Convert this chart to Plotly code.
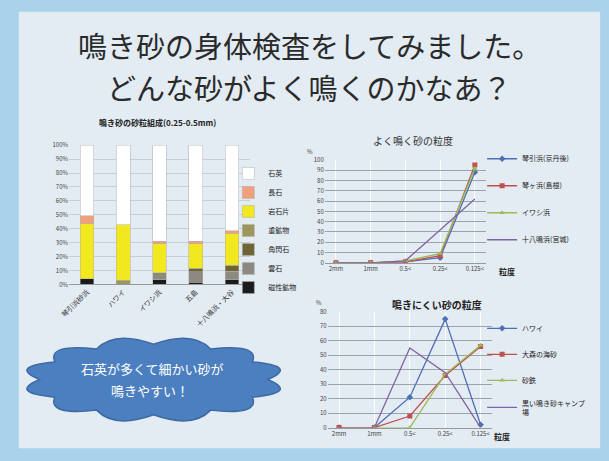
import plotly.graph_objects as go
import numpy as np

W, H = 609, 461
def px(x): return x / W
def py(y): return 1 - y / H

# ---------------- data ----------------
bar_categories = ["琴引浜砂浜", "ハワイ", "イワシ浜", "五島", "十八鳴浜・大谷"]
bar_series = ["磁性鉱物", "雲石", "角閃石", "重鉱物", "岩石片", "長石", "石英"]
bar_colors = ["#1b1b1b", "#8c8a80", "#6e6434", "#9c9658", "#f2e81e", "#f0a07a", "#ffffff"]
bar_values = {
    "磁性鉱物": [4.0, 0.0, 3.3, 1.5, 3.3],
    "雲石":     [0.0, 0.0, 5.2, 7.5, 6.3],
    "角閃石":   [0.0, 0.0, 0.0, 2.5, 4.2],
    "重鉱物":   [0.0, 3.0, 0.0, 0.0, 0.0],
    "岩石片":   [39.7, 40.0, 20.6, 17.6, 23.0],
    "長石":     [5.5, 0.0, 1.9, 1.9, 1.6],
    "石英":     [50.8, 57.0, 69.0, 69.0, 61.6],
}
bar_ticks = [0, 10, 20, 30, 40, 50, 60, 70, 80, 90, 100]
bar_tick_labels = ["%d%%" % t for t in bar_ticks]

size_labels = ["2mm", "1mm", "0.5<", "0.25<", "0.125<"]

good_names = ["琴引浜(京丹後)", "琴ヶ浜(島根)", "イワシ浜", "十八鳴浜(宮城)"]
good_values = [
    [0, 0, 1, 5, 88],
    [0, 0, 1, 7, 95],
    [0, 0, 2, 9, 92],
    [0, 0, 2, 32, 62],
]
bad_names = ["ハワイ", "大森の海砂", "砂鉄", "黒い鳴き砂キャンプ<br>場"]
bad_values = [
    [0, 0, 21, 75, 2],
    [0, 0, 8, 36, 56],
    [None, 0, 0, 37, 57],
    [None, 0, 55, 38, 0],
]
line_colors = ["#4f6fb5", "#c0504d", "#9bbb59", "#8064a2"]
line_symbols = ["diamond", "square", "triangle-up", None]

# ---------------- figure ----------------
fig = go.Figure()
FONT = "Noto Sans CJK JP"

for name, col in zip(bar_series, bar_colors):
    fig.add_trace(go.Bar(
        x=bar_categories, y=bar_values[name], name=name,
        marker=dict(color=col, line=dict(color="#b0b0b0", width=0.5)),
        xaxis="x", yaxis="y", legend="legend",
    ))

for i, (n, v) in enumerate(zip(good_names, good_values)):
    fig.add_trace(go.Scatter(
        x=size_labels, y=v, name=n, mode="lines+markers" if line_symbols[i] else "lines",
        line=dict(color=line_colors[i], width=1.3),
        marker=dict(symbol=line_symbols[i] or "circle", size=5, color=line_colors[i]),
        xaxis="x2", yaxis="y2", legend="legend2", legendgroup="g%d" % i,
    ))

for i, (n, v) in enumerate(zip(bad_names, bad_values)):
    fig.add_trace(go.Scatter(
        x=size_labels, y=v, name=n, mode="lines+markers" if line_symbols[i] else "lines",
        line=dict(color=line_colors[i], width=1.3),
        marker=dict(symbol=line_symbols[i] or "circle", size=5, color=line_colors[i]),
        xaxis="x3", yaxis="y3", legend="legend3", legendgroup="h%d" % i,
    ))

tickfont = dict(family=FONT, size=6, color="#444")
fig.update_layout(
    width=W, height=H, margin=dict(l=0, r=0, t=0, b=0),
    paper_bgcolor="#a9d3ea", plot_bgcolor="rgba(0,0,0,0)",
    font=dict(family=FONT, color="#222"),
    barmode="stack", bargap=0.62,
    xaxis=dict(domain=[px(60), px(244)], anchor="y", tickangle=-45,
               tickfont=dict(family=FONT, size=7, color="#333"), showline=True,
               linecolor="#999", linewidth=1, ticks=""),
    yaxis=dict(domain=[py(285), py(143)], anchor="x", range=[0, 100], tickvals=bar_ticks,
               ticktext=bar_tick_labels, tickfont=tickfont, showgrid=True, gridcolor="#c8ced6",
               gridwidth=0.6, zeroline=False),
    xaxis2=dict(domain=[px(320), px(484)], anchor="y2", tickfont=tickfont, showline=True,
                linecolor="#999", ticks=""),
    yaxis2=dict(domain=[py(263), py(158)], anchor="x2", range=[0, 100], dtick=10,
                tickfont=tickfont, showgrid=True, gridcolor="#9aa3ad", gridwidth=0.7,
                zeroline=False),
    xaxis3=dict(domain=[px(323), px(490)], anchor="y3", tickfont=tickfont, showline=True,
                linecolor="#999", ticks=""),
    yaxis3=dict(domain=[py(431), py(313)], anchor="x3", range=[0, 80], dtick=10,
                tickfont=tickfont, showgrid=True, gridcolor="#9aa3ad", gridwidth=0.7,
                zeroline=False),
    legend=dict(x=px(222), y=py(157), xanchor="left", yanchor="top", traceorder="reversed",
                font=dict(family=FONT, size=7, color="#222"), bgcolor="rgba(0,0,0,0)"),
    legend2=dict(x=px(480), y=py(142), xanchor="left", yanchor="top", tracegroupgap=8,
                 font=dict(family=FONT, size=7, color="#222"), bgcolor="rgba(0,0,0,0)"),
    legend3=dict(x=px(480), y=py(315), xanchor="left", yanchor="top", tracegroupgap=7,
                 font=dict(family=FONT, size=7, color="#222"), bgcolor="rgba(0,0,0,0)"),
)

# slide inner background
fig.add_shape(type="rect", xref="paper", yref="paper", x0=px(9), x1=px(600), y0=py(452), y1=py(7),
              fillcolor="#e3ebf3", line=dict(width=0), layer="below")

# cloud decoration
cx, cy, rx, ry = 146, 382, 116, 36
n = 12
ang = np.linspace(0, 2 * np.pi, n + 1)
pts = [(cx + rx * np.cos(a), cy + ry * np.sin(a)) for a in ang]
path = "M %.4f %.4f" % (px(pts[0][0]), py(pts[0][1]))
for k in range(n):
    am = (ang[k] + ang[k + 1]) / 2
    ctrl = (cx + rx * 1.32 * np.cos(am), cy + ry * 1.45 * np.sin(am))
    path += " Q %.4f %.4f %.4f %.4f" % (px(ctrl[0]), py(ctrl[1]), px(pts[k + 1][0]), py(pts[k + 1][1]))
path += " Z"
fig.add_shape(type="path", xref="paper", yref="paper", path=path,
              fillcolor="#4c7fbf", line=dict(color="#3d6aa3", width=1.5))

def ann(text, x, y, size, color="#222", bold=False, xanchor="center"):
    fig.add_annotation(text=("<b>%s</b>" % text) if bold else text, x=px(x), y=py(y),
                       xref="paper", yref="paper", showarrow=False, xanchor=xanchor, yanchor="middle",
                       font=dict(family=FONT, size=size, color=color))

ann("鳴き砂の身体検査をしてみました。", 304, 41, 29, "#2a2a2a")
ann("どんな砂がよく鳴くのかなあ？", 304, 84, 29, "#2a2a2a")
ann("鳴き砂の砂粒組成(0.25-0.5mm)", 150, 120, 8, "#222", bold=True)
ann("よく鳴く砂の粒度", 410, 138, 10, "#333")
ann("鳴きにくい砂の粒度", 434, 305, 10, "#222", bold=True)
ann("%", 305, 149, 6, "#444")
ann("%", 314, 303, 6, "#444")
ann("粒度", 505, 272, 8, "#222", bold=True)
ann("粒度", 500, 440, 8, "#222", bold=True)
ann("石英が多くて細かい砂が", 145, 371, 13, "#ffffff")
ann("鳴きやすい！", 142, 393, 13, "#ffffff")

fig.write_html("out.html")
